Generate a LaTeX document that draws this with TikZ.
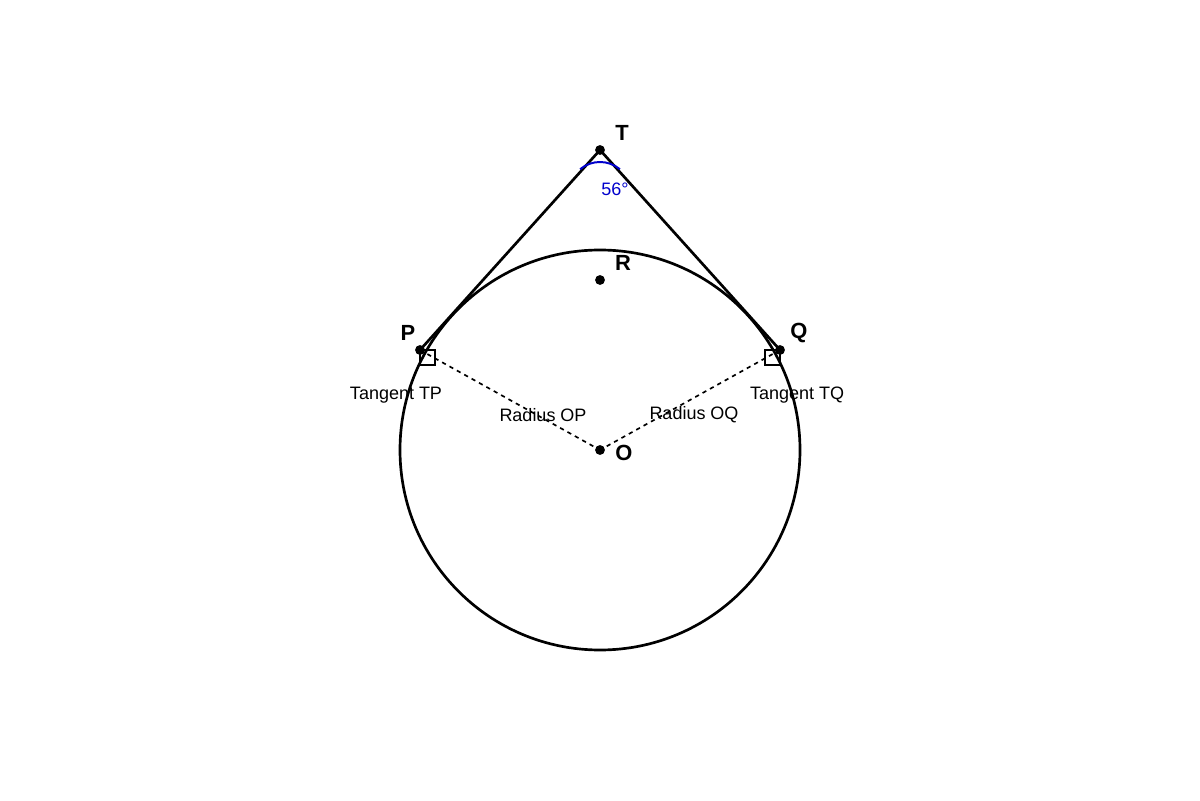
\documentclass[tikz,border=0pt]{standalone}
\usepackage{fontspec}
\setmainfont{Liberation Sans}
\definecolor{angleblue}{RGB}{0,0,204}
\begin{document}
\begin{tikzpicture}[x=2.5cm,y=2.5cm]
        \useasboundingbox (0,0) rectangle (12,8);
        \draw[line width=1.9pt] (6,3.5) circle[radius=2];
        \begin{scope}[every node/.style={circle,fill=black,inner sep=0pt,minimum size=7pt}]
          \node (T) at (6,6.5) {};
          \node (R) at (6,5.2) {};
          \node (P) at (4.2,4.5) {};
          \node (Q) at (7.8,4.5) {};
          \node (O) at (6,3.5) {};
        \end{scope}
        \begin{scope}[every edge/.style={draw=black,line width=1.9pt}]
          \path (T.center) edge (P.center);
          \path (T.center) edge (Q.center);
        \end{scope}
        \begin{scope}[every edge/.style={draw=black,line width=1.2pt,dashed}]
          \path (P.center) edge (O.center);
          \path (Q.center) edge (O.center);
        \end{scope}
        \draw[line width=1pt] (P.center) rectangle ++(0.15,-0.15);
        \draw[line width=1pt] (Q.center) rectangle ++(-0.15,-0.15);
        \draw[angleblue,line width=1.4pt] (6,6.07) ++(130:0.31) arc[start angle=130,end angle=50,radius=0.31];
        \begin{scope}[every node/.style={font=\fontsize{15.6}{18}\selectfont\bfseries}]
          \node (T-lab) at (6.22,6.67) {T};
          \node (R-lab) at (6.23,5.37) {R};
          \node (P-lab) at (4.08,4.67) {P};
          \node (Q-lab) at (7.99,4.67) {Q};
          \node (O-lab) at (6.24,3.47) {O};
        \end{scope}
        \begin{scope}[every node/.style={font=\fontsize{12.8}{15}\selectfont}]
          \node[text=angleblue] (ang) at (6.15,6.11) {56°};
          \node (tp) at (3.96,4.05) {Tangent TP};
          \node (op) at (5.43,3.85) {Radius OP};
          \node (oq) at (6.94,3.85) {Radius OQ};
          \node (tq) at (7.97,4.05) {Tangent TQ};
        \end{scope}
      \end{tikzpicture}
\end{document}
